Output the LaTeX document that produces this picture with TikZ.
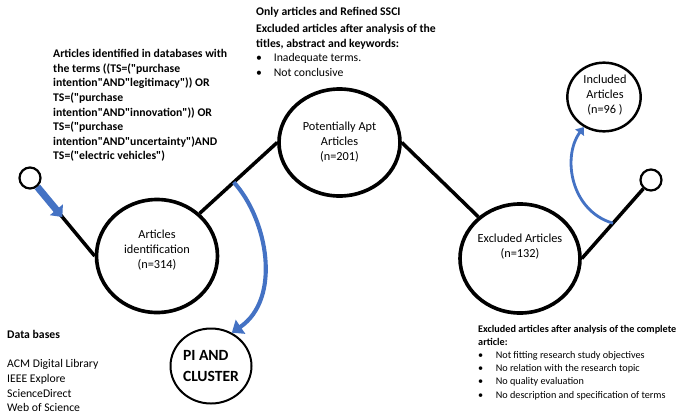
\documentclass[tikz,border=0pt]{standalone}
\usepackage{fontspec}
\setmainfont{Carlito}[Ligatures=TeXOff]
\usetikzlibrary{shapes.geometric, arrows.meta, calc}
\definecolor{cBlue}{HTML}{4472C4}
\newcommand\bul{\makebox[15pt][l]{\textbullet}}
\tikzset{
  bubble/.style={
    ellipse, draw=black, line width=#1, inner sep=0pt, fill=white
  },
  bubble/.default=3.1pt,
  dot/.style={circle, draw=black, line width=1.9pt, minimum size=0.63cm,
    inner sep=0pt, fill=white},
  bubtext/.style={align=center, inner sep=0pt,
    font=\fontsize{10.5}{12.75}\selectfont},
  note/.style={align=left, inner sep=0pt, anchor=north west,
    font=\fontsize{10}{12.5}\selectfont},
  link/.style={line width=3pt, black},
  fatarrow/.style={-{Triangle[length=8pt, width=14pt]}, line width=6pt, cBlue},
  bendarrow/.style={-{Triangle[length=9pt, width=14pt]}, line width=3.5pt, cBlue},
  thinbend/.style={-{Triangle[length=6pt, width=9pt]}, line width=2.4pt, cBlue},
}

\begin{document}
\begin{tikzpicture}[x=0.03cm, y=-0.03cm]
  \useasboundingbox[fill=white] (0,0) rectangle (681,416);

  % stages of the review
  \node[dot] (startc) at (30,178) {};
  \node[bubble, minimum width=3.63cm, minimum height=3.39cm] (ident) at (157,256) {};
  \node[bubble, minimum width=3.63cm, minimum height=3.21cm,
        bubtext] (apt) at (339.5,142.5) {Potentially Apt\\Articles\\(n=201)};
  \node[bubble, minimum width=3.6cm, minimum height=3.27cm] (excl) at (520,258.5) {};
  \node[bubble=2.1pt, minimum width=2.2cm, minimum height=2.06cm] (incl) at (604,97) {};
  \node[dot] (endc) at (651,180) {};
  \node[bubble=1.7pt, minimum width=2.43cm, minimum height=2.25cm, align=left,
        font=\fontsize{13.3}{17.5}\selectfont\bfseries] (pi) at (211,366)
        {PI AND\\CLUSTER};

  % texts inside the bubbles
  \node[bubtext] (ident-t) at (157,250) {Articles\\identification\\(n=314)};
  \node[bubtext] (excl-t) at (520,246.5) {Excluded Articles\\(n=132)};
  \node[bubtext] (incl-t) at (605,95) {Included\\Articles\\(n=96 )};

  % path between the stages
  \draw[link] (startc) -- (ident.west);
  \draw[link] (ident.45) -- (apt.west);
  \draw[link] (apt.east) -- (excl.135);
  \draw[link] (excl.east) -- (endc);

  % blue arrows
  \coordinate (a1) at ($(startc)!0.5!(ident.west)$);
  \draw[fatarrow] (startc) -- (a1);
  \coordinate (a2) at ($(ident.45)!0.44!(apt.west)$);
  \draw[bendarrow] (a2) .. controls +(34,37) and +(50,-34) .. (pi.58);
  \coordinate (a3) at ($(excl.east)!0.45!(endc)$);
  \draw[thinbend] (a3) .. controls +(-42,-12) and +(-22,30) .. (incl.236);

  % notes
  \node[note, font=\fontsize{10}{12.5}\selectfont\bfseries] (search) at (53,49)
    {Articles identified in databases with\\
     the terms ((TS=("purchase\\
     intention"AND"legitimacy")) OR\\
     TS=("purchase\\
     intention"AND"innovation")) OR\\
     TS=("purchase\\
     intention"AND"uncertainty")AND\\
     TS=("electric vehicles")};

  \node[note] (screen) at (256,7)
    {\textbf{Only articles and Refined SSCI}\\[2pt]
     \textbf{Excluded articles after analysis of the}\\
     \textbf{titles, abstract and keywords:}\\
     \bul Inadequate terms.\\
     \bul Not conclusive};

  \node[note] (dbs) at (7,330)
    {\textbf{Data bases}\\[12.5pt]
     ACM Digital Library\\
     IEEE Explore\\
     ScienceDirect\\
     Web of Science};

  \node[note, font=\fontsize{8.7}{11.2}\selectfont] (fulltext) at (478,325)
    {\textbf{Excluded articles after analysis of the complete}\\
     \textbf{article:}\\
     \bul Not fitting research study objectives\\
     \bul No relation with the research topic\\
     \bul No quality evaluation\\
     \bul No description and specification of terms};

\end{tikzpicture}
\end{document}
